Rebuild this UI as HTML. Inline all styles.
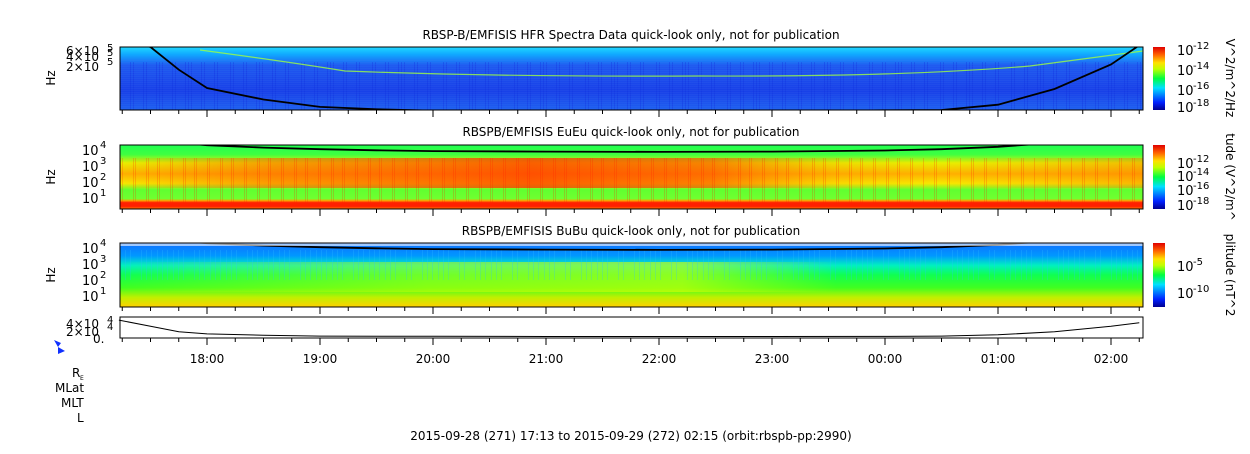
<!DOCTYPE html>
<html><head><meta charset="utf-8"><style>
body{margin:0;background:#fff;width:1250px;height:449px;overflow:hidden}
svg text{font-family:"DejaVu Sans","Liberation Sans",sans-serif;fill:#000}
</style></head><body>
<svg id="chart" width="1250" height="449" viewBox="0 0 1250 449" xmlns="http://www.w3.org/2000/svg">
<defs>
<linearGradient id="jet" x1="0" y1="1" x2="0" y2="0">
<stop offset="0" stop-color="#00008f"/><stop offset="0.12" stop-color="#0020ff"/><stop offset="0.35" stop-color="#00e0ff"/><stop offset="0.5" stop-color="#00ff40"/><stop offset="0.65" stop-color="#c0ff00"/><stop offset="0.75" stop-color="#ffe000"/><stop offset="0.88" stop-color="#ff6000"/><stop offset="1" stop-color="#e00000"/>
</linearGradient>
<linearGradient id="p1bg" x1="0" y1="0" x2="0" y2="1">
<stop offset="0" stop-color="#20d8ff"/><stop offset="0.12" stop-color="#10a8ff"/><stop offset="0.3" stop-color="#2058f0"/><stop offset="0.7" stop-color="#1840e8"/><stop offset="1" stop-color="#2060f0"/>
</linearGradient>
<linearGradient id="p2bg" x1="0" y1="0" x2="0" y2="1">
<stop offset="0" stop-color="#20ff50"/><stop offset="0.15" stop-color="#40ff40"/><stop offset="0.28" stop-color="#e8f000"/><stop offset="0.45" stop-color="#ffb000"/><stop offset="0.6" stop-color="#f8e800"/><stop offset="0.7" stop-color="#60ff30"/><stop offset="0.84" stop-color="#70ff30"/><stop offset="0.87" stop-color="#ffa000"/><stop offset="0.9" stop-color="#ff2000"/><stop offset="0.96" stop-color="#ff2000"/><stop offset="1" stop-color="#ff8000"/>
</linearGradient>
<linearGradient id="p3bg" x1="0" y1="0" x2="0" y2="1">
<stop offset="0" stop-color="#1070ff"/><stop offset="0.2" stop-color="#0098ff"/><stop offset="0.35" stop-color="#00f0c0"/><stop offset="0.5" stop-color="#10ff50"/><stop offset="0.7" stop-color="#40ff20"/><stop offset="0.85" stop-color="#c0f000"/><stop offset="1" stop-color="#ffd000"/>
</linearGradient>
<linearGradient id="redband" x1="0" y1="0" x2="1" y2="0">
<stop offset="0" stop-color="#ff5000" stop-opacity="0"/><stop offset="0.15" stop-color="#ff5000" stop-opacity="0.5"/><stop offset="0.4" stop-color="#ff3000" stop-opacity="0.75"/><stop offset="0.58" stop-color="#ff4000" stop-opacity="0.6"/><stop offset="0.7" stop-color="#ff8000" stop-opacity="0.15"/><stop offset="0.8" stop-color="#ff8000" stop-opacity="0"/><stop offset="1" stop-color="#ff6000" stop-opacity="0.35"/>
</linearGradient>
<linearGradient id="yband" x1="0" y1="0" x2="1" y2="0">
<stop offset="0" stop-color="#d0ff00" stop-opacity="0"/><stop offset="0.3" stop-color="#d0ff00" stop-opacity="0.5"/><stop offset="0.55" stop-color="#e0ff00" stop-opacity="0.6"/><stop offset="0.7" stop-color="#d0ff00" stop-opacity="0"/>
</linearGradient>
<clipPath id="c1"><rect x="120" y="47" width="1023" height="63"/></clipPath>
<clipPath id="c2"><rect x="120" y="145" width="1023" height="64"/></clipPath>
<clipPath id="c3"><rect x="120" y="243" width="1023" height="64"/></clipPath>
</defs>
<g id="marks"></g>
<g id="axes"></g>
</svg>
<script>
// ---- data ----
const tickHours = [18,19,20,21,22,23,24,25,26];
const tickLabels = ["18:00","19:00","20:00","21:00","22:00","23:00","00:00","01:00","02:00"];
const curveHours = [17.3,17.5,17.75,18,18.5,19,19.5,20,21,22,23,24,24.5,25,25.5,26,26.25];
const fceLog1 = [5.95,5.8,5.15,4.63,4.3,4.09,4.02,3.98,3.95,3.95,3.96,3.99,4.0,4.15,4.6,5.3,5.85];
const fceLog23 = [4.8,4.6,4.45,4.3,4.15,4.05,3.98,3.93,3.9,3.88,3.9,3.97,4.05,4.2,4.45,4.75,5.0];
const orbHours = [17.22,17.5,17.75,18,18.5,19,20,21,22,23,24,24.5,25,25.5,26,26.25];
const orbVals = [38000,24000,12000,7000,4000,2000,1500,1200,1200,1200,1400,2000,5000,12000,24000,32000];

const svg=document.getElementById('chart'), marks=document.getElementById('marks'), axes=document.getElementById('axes');
const NS='http://www.w3.org/2000/svg';
const X0=120,X1=1143;
const x=h=>207+(h-18)*113;
function el(tag,attrs,parent){const e=document.createElementNS(NS,tag);for(const k in attrs)e.setAttribute(k,attrs[k]);(parent||marks).appendChild(e);return e;}
function txt(s,xx,yy,opt,parent){const t=el('text',Object.assign({x:xx,y:yy,'font-size':12},opt||{}),parent||axes);t.textContent=s;return t;}

const panels=[{y0:47,y1:110,fill:'url(#p1bg)',name:'hfr-spectrogram'},
{y0:145,y1:209,fill:'url(#p2bg)',name:'eueu-spectrogram'},
{y0:243,y1:307,fill:'url(#p3bg)',name:'bubu-spectrogram'}];
panels.forEach(p=>{
 const r=el('rect',{x:X0,y:p.y0,width:X1-X0,height:p.y1-p.y0,fill:p.fill});
 
 
});
// overlays
el('rect',{x:X0,y:158,width:X1-X0,height:30,fill:'url(#redband)'});
el('rect',{x:X0,y:262,width:X1-X0,height:30,fill:'url(#yband)'});
for(let k=0;k<160;k++){
 el('rect',{x:X0+((k*37)%1023),y:158,width:1,height:46,fill:'#ff2000',opacity:0.22});
 el('rect',{x:X0+((k*53)%1023),y:250,width:1,height:30,fill:'#30c0ff',opacity:0.25});
 el('rect',{x:X0+((k*71)%1023),y:62,width:1,height:48,fill:'#1030e0',opacity:0.35});
 el('rect',{x:X0,y:60+(k%25)*2,width:1023,height:1,fill:'#3080ff',opacity:0.03});
}
el('path',{d:'M200 50 Q290 62 345 71 Q500 77 700 76 Q900 77 1030 66 Q1090 58 1143 51',stroke:'#a0ff40','stroke-width':1.2,fill:'none',opacity:0.8});

// fce curves
function curve(vals,ymap,clip){let d='';curveHours.forEach((h,j)=>{const yy=ymap(vals[j]);d+=(j?'L':'M')+x(h).toFixed(1)+' '+yy.toFixed(1);});
 return el('path',{d:d,stroke:'#000','stroke-width':1.8,fill:'none','clip-path':clip});}
const c1=curve(fceLog1,v=>110-(v-4.0)/1.8*63,'url(#c1)');


const c2=curve(fceLog23,v=>198-(v-1)*16,'url(#c2)');


const c3=curve(fceLog23,v=>296-(v-1)*16,'url(#c3)');


// white above curve in panel 3 top
el('path',{d:'M120 243 L1143 243 L1143 246 L120 246Z',fill:'#fff',opacity:0.6});

// orbit
let od='';orbHours.forEach((h,j)=>{const yy=337-orbVals[j]/45000*20;od+=(j?'L':'M')+x(h).toFixed(1)+' '+yy.toFixed(1);});
const ol=el('path',{d:od,stroke:'#000','stroke-width':1,fill:'none'});



[[47,110],[145,209],[243,307],[317,338]].forEach(([a,b],i)=>{
 const f=el('rect',{x:X0,y:a,width:X1-X0,height:b-a,fill:'none',stroke:'#000','stroke-width':1},axes);
 
 
 for(let h=17.25;h<=26.26;h+=0.25){const xx=x(h);const major=Math.abs(h-Math.round(h))<0.01;el('line',{x1:xx,x2:xx,y1:b,y2:b+(major?7:4),stroke:'#000'},axes);}
});
tickHours.forEach((h,i)=>{const t=txt(tickLabels[i],x(h),363,{'text-anchor':'middle'});
 
 });

txt('RBSP-B/EMFISIS  HFR Spectra Data quick-look only, not for publication',631,39,{'text-anchor':'middle'});
txt('RBSPB/EMFISIS  EuEu quick-look only, not for publication',631,136,{'text-anchor':'middle'});
txt('RBSPB/EMFISIS  BuBu quick-look only, not for publication',631,235,{'text-anchor':'middle'});
[[55,78],[55,177],[55,275]].forEach(([xx,yy])=>txt('Hz',xx,yy,{'text-anchor':'middle',transform:`rotate(-90 ${xx} ${yy})`}));
txt('6\u00d710',66,55,{'font-size':12});txt('5',107,51,{'font-size':10});
txt('4\u00d710',66,61,{'font-size':12});txt('5',107,56,{'font-size':10});
txt('2\u00d710',66,71,{'font-size':12});txt('5',107,65,{'font-size':10});
function decTicks(labels,ys){labels.forEach((e,i)=>{txt('10',82,ys[i]+5,{'font-size':13});txt(e,100,ys[i]-2,{'font-size':10});});}
decTicks(['4','3','2','1'],[150,166,182,198]);
decTicks(['4','3','2','1'],[248,264,280,296]);
txt('4\u00d710',66,328,{'font-size':12});txt('4',107,323,{'font-size':10});
txt('2\u00d710',66,336,{'font-size':12});txt('4',107,330,{'font-size':10});
txt('0.',93,343,{'font-size':12});
[[47,110],[145,209],[243,307]].forEach(([a,b],i)=>{const r=el('rect',{x:1153,y:a,width:12,height:b-a,fill:'url(#jet)'},axes);
 
 });
function cb(lbl,yy){txt('10',1177,yy+5,{'font-size':13});txt(lbl,1193,yy-1,{'font-size':10});}
cb('-12',50);cb('-14',70);cb('-16',90);cb('-18',107);
cb('-12',163);cb('-14',176);cb('-16',190);cb('-18',205);
cb('-5',266);cb('-10',293);
[['V^2/m^2/Hz',1226,78],['tude (V^2/m^',1226,177],['plitude (nT^2',1226,275]].forEach(([s,xx,yy])=>txt(s,xx,yy,{'text-anchor':'middle',transform:`rotate(90 ${xx} ${yy})`}));
txt('R',72,377,{});txt('E',80,380,{'font-size':6});
txt('MLat',55,392,{});txt('MLT',61,407,{});txt('L',77,422,{});
const ft=txt('2015-09-28 (271) 17:13 to 2015-09-29 (272) 02:15 (orbit:rbspb-pp:2990)',631,440,{'text-anchor':'middle'});


const arr=el('path',{d:'M54 340 L61 343 L58 347 Z M58 347 L65 351 L58 354 Z',fill:'#1030ff'},axes);


</script>
</body></html>
